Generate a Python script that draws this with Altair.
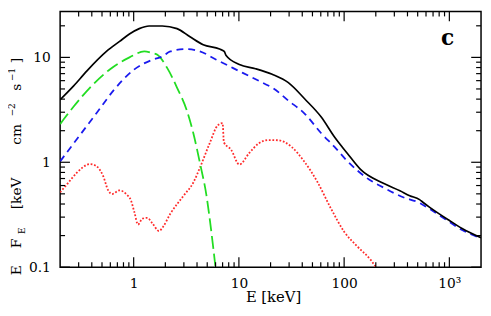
import altair as alt
import pandas as pd

# ---- data (E in keV, E*F_E) ----
E_total = [0.2, 0.269, 0.358, 0.551, 0.735, 0.912, 1.13, 1.40, 1.87, 2.58, 3.43, 4.58, 6.55, 7.25, 7.56,
           10.1, 14.4, 20.7, 29.5, 42.3, 60.6, 80.7, 107, 143, 236, 339, 420, 521, 560, 646, 994, 1322, 2000]
F_total = [3.95, 5.35, 7.40, 11.4, 14.2, 16.7, 18.8, 19.9, 19.9, 18.8, 15.7, 13.2, 12.0, 11.4, 10.4,
           8.55, 7.80, 6.89, 5.74, 4.01, 2.70, 1.75, 1.22, 0.855, 0.63, 0.535, 0.48, 0.44, 0.416, 0.374, 0.280, 0.234, 0.191]

E_comp = [0.2, 0.3, 0.45, 0.65, 1.0, 1.51, 1.87, 2.23, 3.20, 4.26, 6.10, 8.73, 12.5, 17.9, 20.7, 29.5, 42.3,
          60.6, 80.7, 104, 171, 236, 364, 521, 646, 994, 1322, 2000]
F_comp = [1.02, 1.75, 3.0, 4.9, 7.6, 9.51, 10.2, 11.4, 12.0, 11.4, 9.51, 7.94, 6.64, 5.55, 5.16, 3.87, 2.90,
          1.89, 1.41, 1.06, 0.689, 0.575, 0.464, 0.410, 0.360, 0.271, 0.226, 0.189]

E_disk = [0.2, 0.269, 0.385, 0.593, 0.912, 1.26, 1.51, 1.68, 2.08, 2.58, 3.20, 3.69, 4.26, 4.92, 5.47, 5.97]
F_disk = [2.31, 3.40, 5.16, 7.67, 10.0, 11.4, 11.0, 10.6, 7.94, 5.16, 3.12, 1.89, 0.987, 0.480, 0.218, 0.103]

E_refl = [0.2, 0.233, 0.289, 0.385, 0.444, 0.513, 0.571, 0.623, 0.735, 0.847, 0.944, 1.015, 1.10, 1.21, 1.35,
          1.51, 1.74, 1.91, 2.23, 2.98, 3.69, 4.26, 5.28, 6.32, 7.0, 7.2, 8.42, 10.1, 12.5, 15.5, 19.2, 23.8,
          31.7, 41.4, 55.3, 75.2, 100, 133, 178, 198]
F_refl = [0.517, 0.618, 0.796, 0.962, 0.917, 0.739, 0.543, 0.498, 0.540, 0.498, 0.431, 0.335, 0.255, 0.290, 0.295,
          0.261, 0.221, 0.244, 0.323, 0.480, 0.641, 0.887, 1.52, 2.26, 2.36, 1.55, 1.32, 0.952, 1.22, 1.52, 1.63, 1.62,
          1.40, 1.03, 0.659, 0.360, 0.218, 0.158, 0.118, 0.102]

x_major = [1, 10, 100, 1000]
x_minor = [0.3, 0.4, 0.5, 0.6, 0.7, 0.8, 0.9, 2, 3, 4, 5, 6, 7, 8, 9,
           20, 30, 40, 50, 60, 70, 80, 90, 200, 300, 400, 500, 600, 700, 800, 900]
y_major = [0.1, 1, 10]
y_minor = [0.2, 0.3, 0.4, 0.5, 0.6, 0.7, 0.8, 0.9, 2, 3, 4, 5, 6, 7, 8, 9, 20]

W, H = 428, 260
FONT = "DejaVu Serif"

xs = alt.Scale(type="log", domain=[0.2, 2000], nice=False)
ys = alt.Scale(type="log", domain=[0.1, 27.4], nice=False)
xaxis = alt.Axis(values=x_major, labelExpr="datum.value >= 1000 ? '10\u00b3' : format(datum.value, '~g')",
                 ticks=False, domain=False, grid=False, title=None, labelFont=FONT, labelFontSize=14,
                 labelPadding=10, labelColor="black", labelFlush=False)
yaxis = alt.Axis(values=y_major, format="~g", ticks=False, domain=False, grid=False, title=None,
                 labelFont=FONT, labelFontSize=14, labelPadding=10, labelColor="black", labelFlush=False)

X = alt.X("E:Q", scale=xs, axis=xaxis)
Y = alt.Y("F:Q", scale=ys, axis=yaxis)


def curve(E, F, color, width, dash=None):
    df = pd.DataFrame({"E": E, "F": F})
    kw = dict(color=color, strokeWidth=width, clip=True, interpolate="monotone")
    if dash:
        kw["strokeDash"] = dash
    return alt.Chart(df).mark_line(**kw).encode(x=X, y=Y)


layers = [
    curve(E_refl, F_refl, "#ff2a2a", 1.8, [1.8, 1.8]),
    curve(E_disk, F_disk, "#22dd22", 1.8, [13, 5]),
    curve(E_comp, F_comp, "#1a1aee", 1.8, [7, 5]),
    curve(E_total, F_total, "black", 1.7),
]


def xticks(vals, length):
    df = pd.DataFrame({"E": vals})
    b = alt.Chart(df).mark_rule(color="black", strokeWidth=1.2).encode(
        x=X, y=alt.value(H), y2=alt.value(H - length))
    t = alt.Chart(df).mark_rule(color="black", strokeWidth=1.2).encode(
        x=X, y=alt.value(0), y2=alt.value(length))
    return [b, t]


def yticks(vals, length):
    df = pd.DataFrame({"F": vals})
    l = alt.Chart(df).mark_rule(color="black", strokeWidth=1.2).encode(
        y=Y, x=alt.value(0), x2=alt.value(length))
    r = alt.Chart(df).mark_rule(color="black", strokeWidth=1.2).encode(
        y=Y, x=alt.value(W), x2=alt.value(W - length))
    return [l, r]


layers += xticks(x_major, 10) + xticks(x_minor, 5) + yticks(y_major, 10) + yticks(y_minor, 5)

one = pd.DataFrame({"k": [0]})


def label(text, x, y, size, angle=0, weight="normal", align="center", baseline="alphabetic"):
    return alt.Chart(one).mark_text(text=text, font=FONT, fontSize=size, fontWeight=weight, angle=angle,
                                    align=align, baseline=baseline, color="black").encode(
        x=alt.value(x), y=alt.value(y))


# panel letter
layers.append(label("c", 394, 34, 22, weight="bold"))
# x title
layers.append(label("E  [keV]", 217, 295, 15))
# y title pieces (rotated)
ytitle = [("E", -40, 263, 14), ("F", -40, 236, 14), ("E", -36, 223, 9),
          ("[keV", -40, 185, 14), ("cm", -40, 125, 14), ("\u22122", -46, 100, 9),
          ("s", -40, 77, 14), ("\u22121", -46, 64, 9), ("]", -40, 50, 14)]
for t, x, y, s in ytitle:
    layers.append(label(t, x, y, s, angle=270))

chart = alt.layer(*layers).properties(
    width=W, height=H,
    autosize=alt.AutoSizeParams(type="none"),
    padding={"left": 53, "top": 1, "right": 2, "bottom": 39},
).configure_view(stroke="black", strokeWidth=1.5)

chart.save("out.html", embed_options={"renderer": "svg", "actions": False})
